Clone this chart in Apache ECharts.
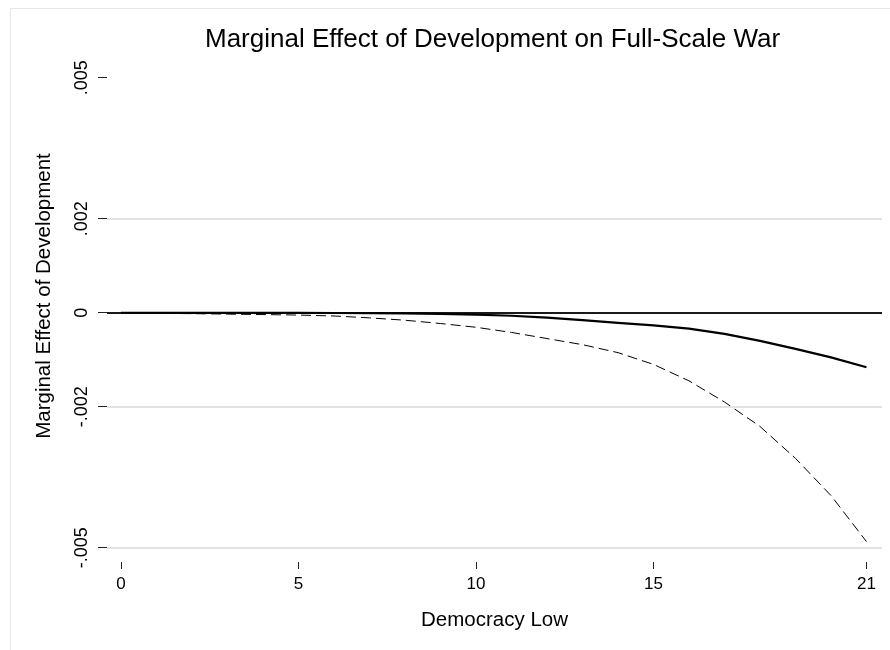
<!DOCTYPE html>
<html>
<head>
<meta charset="utf-8">
<script src="https://cdn.jsdelivr.net/npm/echarts@6/dist/echarts.min.js"></script>
<style>
  html, body { margin: 0; padding: 0; background: #ffffff; }
  #chart { width: 890px; height: 650px; }
</style>
</head>
<body>
<div id="chart"></div>
<script>
// ---- data ----
const democracyLow = [0, 1, 2, 3, 4, 5, 6, 7, 8, 9, 10, 11, 12, 13, 14, 15, 16, 17, 18, 19, 20, 21];
const marginalEffect = [-0.000001, -0.000001, -0.000002, -0.000002, -0.000003, -0.000004, -0.000006, -0.000010,
  -0.000016, -0.000026, -0.000042, -0.000065, -0.000105, -0.000160, -0.000215, -0.000270,
  -0.000340, -0.000450, -0.000600, -0.000770, -0.000950, -0.001160];
const lowerCI = [-0.000010, -0.000015, -0.000020, -0.000030, -0.000040, -0.000050, -0.000070, -0.000110,
  -0.000160, -0.000230, -0.000310, -0.000420, -0.000550, -0.000680, -0.000850, -0.001100,
  -0.001450, -0.001900, -0.002420, -0.003100, -0.003890, -0.004870];
const upperCI = [0.000002, 0.000002, 0.000002, 0.000002, 0.000002, 0.000002, 0.000002, 0.000002,
  0.000002, 0.000002, 0.000002, 0.000002, 0.000002, 0.000002, 0.000002, 0.000002,
  0.000002, 0.000002, 0.000002, 0.000002, 0.000002, 0.000002];
const xTicks = [0, 5, 10, 15, 21];
const yTicks = [-0.005, -0.002, 0, 0.002, 0.005];
const yGridValues = [-0.005, -0.002, 0.002];
const zeroLine = 0;

const titleText = 'Marginal Effect of Development on Full-Scale War';
const xTitle = 'Democracy Low';
const yTitle = 'Marginal Effect of Development';

function pairs(xs, ys) { return xs.map((x, i) => [x, ys[i]]); }
function stataFmt(v) {
  if (Math.abs(v) < 1e-12) return '0';
  const s = String(Math.abs(Number(v.toFixed(6)))).replace(/^0/, '');
  return (v < 0 ? '-' : '') + s;
}

const FONT = '"Liberation Sans", Arial, Helvetica, sans-serif';
const chart = echarts.init(document.getElementById('chart'), null, { renderer: 'canvas' });

const gridMarks = yGridValues.map(v => ({
  yAxis: v,
  lineStyle: { color: '#e2e2e2', width: 2, type: 'solid', opacity: 1 }
}));

chart.setOption({
  backgroundColor: '#ffffff',
  animation: false,
  title: {
    text: titleText,
    left: 205,
    top: 27,
    padding: 0,
    textStyle: { fontFamily: FONT, fontSize: 26, fontWeight: 'normal', color: '#000' }
  },
  graphic: [
    {
      type: 'rect',
      silent: true,
      shape: { x: 10.5, y: 8.5, width: 900, height: 700 },
      style: { fill: 'none', stroke: '#e6e6e6', lineWidth: 1 }
    },
    {
      type: 'text',
      silent: true,
      x: 44, y: 296,
      rotation: Math.PI / 2,
      style: {
        text: yTitle, fontFamily: FONT, fontSize: 20.5, fill: '#000',
        align: 'center', verticalAlign: 'middle'
      }
    }
  ],
  grid: { left: 107, right: 8, top: 77.7, bottom: 650 - 547.7, containLabel: false },
  xAxis: {
    type: 'value',
    min: -0.394,
    max: 21.437,
    offset: 14.3,
    name: xTitle,
    nameLocation: 'middle',
    nameGap: 48,
    nameTextStyle: { fontFamily: FONT, fontSize: 20.5, color: '#000' },
    axisLine: { show: false, onZero: false },
    axisTick: { show: true, length: 7, customValues: xTicks, lineStyle: { color: '#222', width: 1 } },
    axisLabel: { customValues: xTicks, margin: 14, fontFamily: FONT, fontSize: 17, color: '#000',
                 formatter: v => String(v) },
    splitLine: { show: false }
  },
  yAxis: {
    type: 'value',
    min: -0.005,
    max: 0.005,
    axisLine: { show: false, onZero: false },
    axisTick: { show: true, length: 9, customValues: yTicks, lineStyle: { color: '#222', width: 1 } },
    axisLabel: { customValues: yTicks, rotate: 90, margin: 16, fontFamily: FONT, fontSize: 18, color: '#000',
                 formatter: v => stataFmt(v) },
    splitLine: { show: false }
  },
  series: [
    {
      name: 'Upper CI',
      type: 'line',
      data: pairs(democracyLow, upperCI),
      showSymbol: false, symbol: 'none', z: 4,
      lineStyle: { color: '#000', width: 1, type: [10, 5] }
    },
    {
      name: 'Lower CI',
      type: 'line',
      data: pairs(democracyLow, lowerCI),
      showSymbol: false, symbol: 'none', z: 4,
      lineStyle: { color: '#000', width: 1, type: [10, 5] },
      markLine: {
        silent: true, symbol: ['none', 'none'], label: { show: false },
        precision: 8,
        lineStyle: { color: '#1a1a1a', width: 2, type: 'solid' },
        data: gridMarks.concat([{ yAxis: zeroLine }])
      }
    },
    {
      name: 'Marginal Effect',
      type: 'line',
      data: pairs(democracyLow, marginalEffect),
      showSymbol: false, symbol: 'none', z: 5,
      lineStyle: { color: '#000', width: 2.2, type: 'solid' }
    }
  ]
});
</script>
</body>
</html>
